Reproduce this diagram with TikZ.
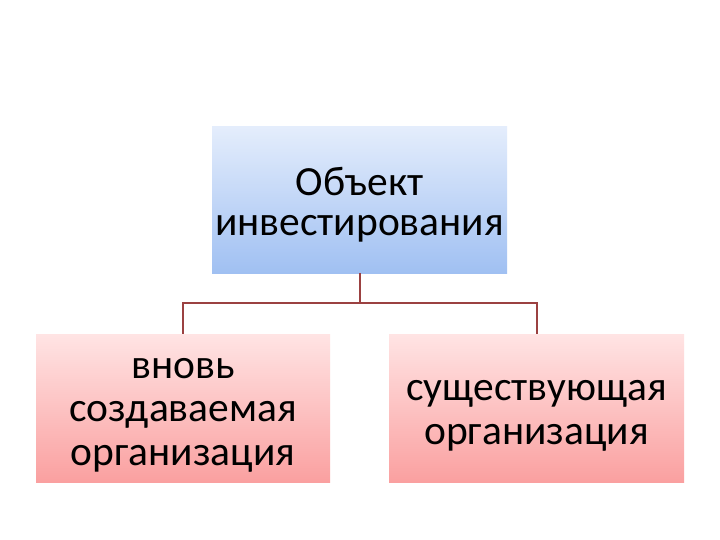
\documentclass[tikz,border=0pt]{standalone}
\usepackage{fontspec}
\setmainfont{Carlito}
\begin{document}
\begin{tikzpicture}[x=1pt,y=-1pt,
  topbox/.style={rectangle, inner sep=0pt, minimum width=295pt, minimum height=146pt,
    top color={rgb,255:red,228;green,237;blue,252}, bottom color={rgb,255:red,160;green,192;blue,242}},
  childbox/.style={rectangle, inner sep=0pt, minimum width=294pt, minimum height=148pt,
    top color={rgb,255:red,255;green,228;blue,228}, bottom color={rgb,255:red,250;green,160;blue,160}},
  toptext/.style={inner sep=0pt, align=center, font=\fontsize{41.5}{40}\selectfont},
  childtext/.style={inner sep=0pt, align=center, font=\fontsize{41.5}{43.5}\selectfont},
  conn/.style={draw={rgb,255:red,155;green,65;blue,65}, line width=2pt}]
\useasboundingbox (0,0) rectangle (720,540);
\fill[white] (0,0) rectangle (720,540);
\node[topbox] (top) at (359.5,200) {};
\node[toptext] (toplabel) at (359.5,205) {Объект\\инвестирования};
\node[childbox] (left) at (183,408) {};
\node[childtext] (leftlabel) at (183,415) {вновь\\создаваемая\\организация};
\node[childbox, minimum width=295pt] (right) at (536.5,408) {};
\node[childtext] (rightlabel) at (536.5,416) {существующая\\организация};
\coordinate (mid) at (359.5,303);
\draw[conn] (top.south) -- (mid) -| (left.north);
\draw[conn] (mid) -| (right.north);
\end{tikzpicture}
\end{document}
